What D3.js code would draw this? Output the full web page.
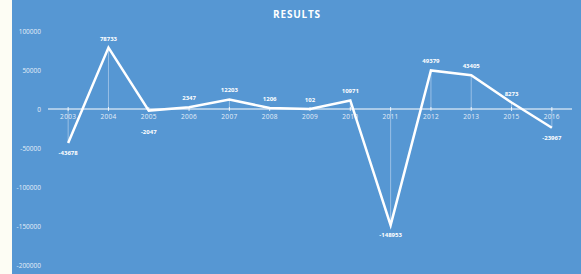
<!DOCTYPE html>
<html>
<head>
<meta charset="utf-8">
<script src="https://cdn.jsdelivr.net/npm/d3@7/dist/d3.min.js"></script>
<style>
body { margin: 0; background: #fdfdf4; }
svg { display: block; }
</style>
</head>
<body>
<div id="chart"></div>
<script>
// chart data
var years = ["2003","2004","2005","2006","2007","2008","2009","2010","2011","2012","2013","2015","2016"];
var results = [-43678, 78733, -2047, 2347, 12203, 1206, 102, 10971, -148953, 49379, 43405, 8273, -23967];
var yTicks = [100000, 50000, 0, -50000, -100000, -150000, -200000];

var width = 581, height = 274;
var svg = d3.select("#chart").append("svg")
	.attr("width", width)
	.attr("height", height);

// blue panel
svg.append("rect")
	.attr("x", 12).attr("y", 0)
	.attr("width", width - 12).attr("height", height)
	.style("fill", "#5697d3");

svg.append("text")
	.attr("x", 297).attr("y", 18)
	.attr("text-anchor", "middle")
	.style("font-family", "Open Sans, sans-serif")
	.style("font-weight", "bold")
	.style("font-size", "10px")
	.style("letter-spacing", "0.8px")
	.style("fill", "#fff")
	.text("RESULTS");

var x = d3.scaleBand().domain(years).range([48, 572]);
var y = d3.scaleLinear().domain([-200000, 100000]).range([265, 31]);

// y axis labels
svg.selectAll(".ylab")
	.data(yTicks)
	.enter().append("text")
	.attr("class", "ylab")
	.attr("x", 41)
	.attr("y", function(d) { return y(d) + 2.5; })
	.attr("text-anchor", "end")
	.style("font-family", "Open Sans, sans-serif")
	.style("font-size", "6.5px")
	.style("fill", "#e4eef8")
	.text(function(d) { return d; });

function cx(d) { return x(d) + x.bandwidth() / 2; }

// drop lines
svg.selectAll(".drop")
	.data(years)
	.enter().append("line")
	.attr("x1", cx).attr("x2", cx)
	.attr("y1", y(0))
	.attr("y2", function(d, i) { return y(results[i]); })
	.style("stroke", "#a9c9ea")
	.style("stroke-width", 0.8);

// zero line
svg.append("line")
	.attr("x1", 48).attr("x2", 572)
	.attr("y1", y(0)).attr("y2", y(0))
	.style("stroke", "#fff")
	.style("stroke-width", 1);

// tick marks
svg.selectAll(".tick")
	.data(years)
	.enter().append("line")
	.attr("x1", cx).attr("x2", cx)
	.attr("y1", y(0) - 2).attr("y2", y(0) + 2)
	.style("stroke", "#fff")
	.style("stroke-width", 0.8);

// category labels
svg.selectAll(".xlab")
	.data(years)
	.enter().append("text")
	.attr("x", cx)
	.attr("y", y(0) + 10)
	.attr("text-anchor", "middle")
	.style("font-family", "Open Sans, sans-serif")
	.style("font-size", "6.5px")
	.style("letter-spacing", "0.3px")
	.style("fill", "#e4eef8")
	.text(function(d) { return d; });

var line = d3.line()
	.x(function(d, i) { return cx(years[i]); })
	.y(function(d) { return y(d); });

svg.append("path")
	.datum(results)
	.attr("d", line)
	.style("fill", "none")
	.style("stroke", "#fff")
	.style("stroke-width", 2.5)
	.style("stroke-linejoin", "miter");

// value labels (negative ones kept clear of the year labels)
svg.selectAll(".val")
	.data(results)
	.enter().append("text")
	.attr("x", function(d, i) { return cx(years[i]); })
	.attr("y", function(d) { return d >= 0 ? y(d) - 7 : Math.max(y(d) + 12, y(0) + 25); })
	.attr("text-anchor", "middle")
	.style("font-family", "Open Sans, sans-serif")
	.style("font-weight", "bold")
	.style("font-size", "6px")
	.style("fill", "#fff")
	.text(function(d) { return d; });
</script>
</body>
</html>
